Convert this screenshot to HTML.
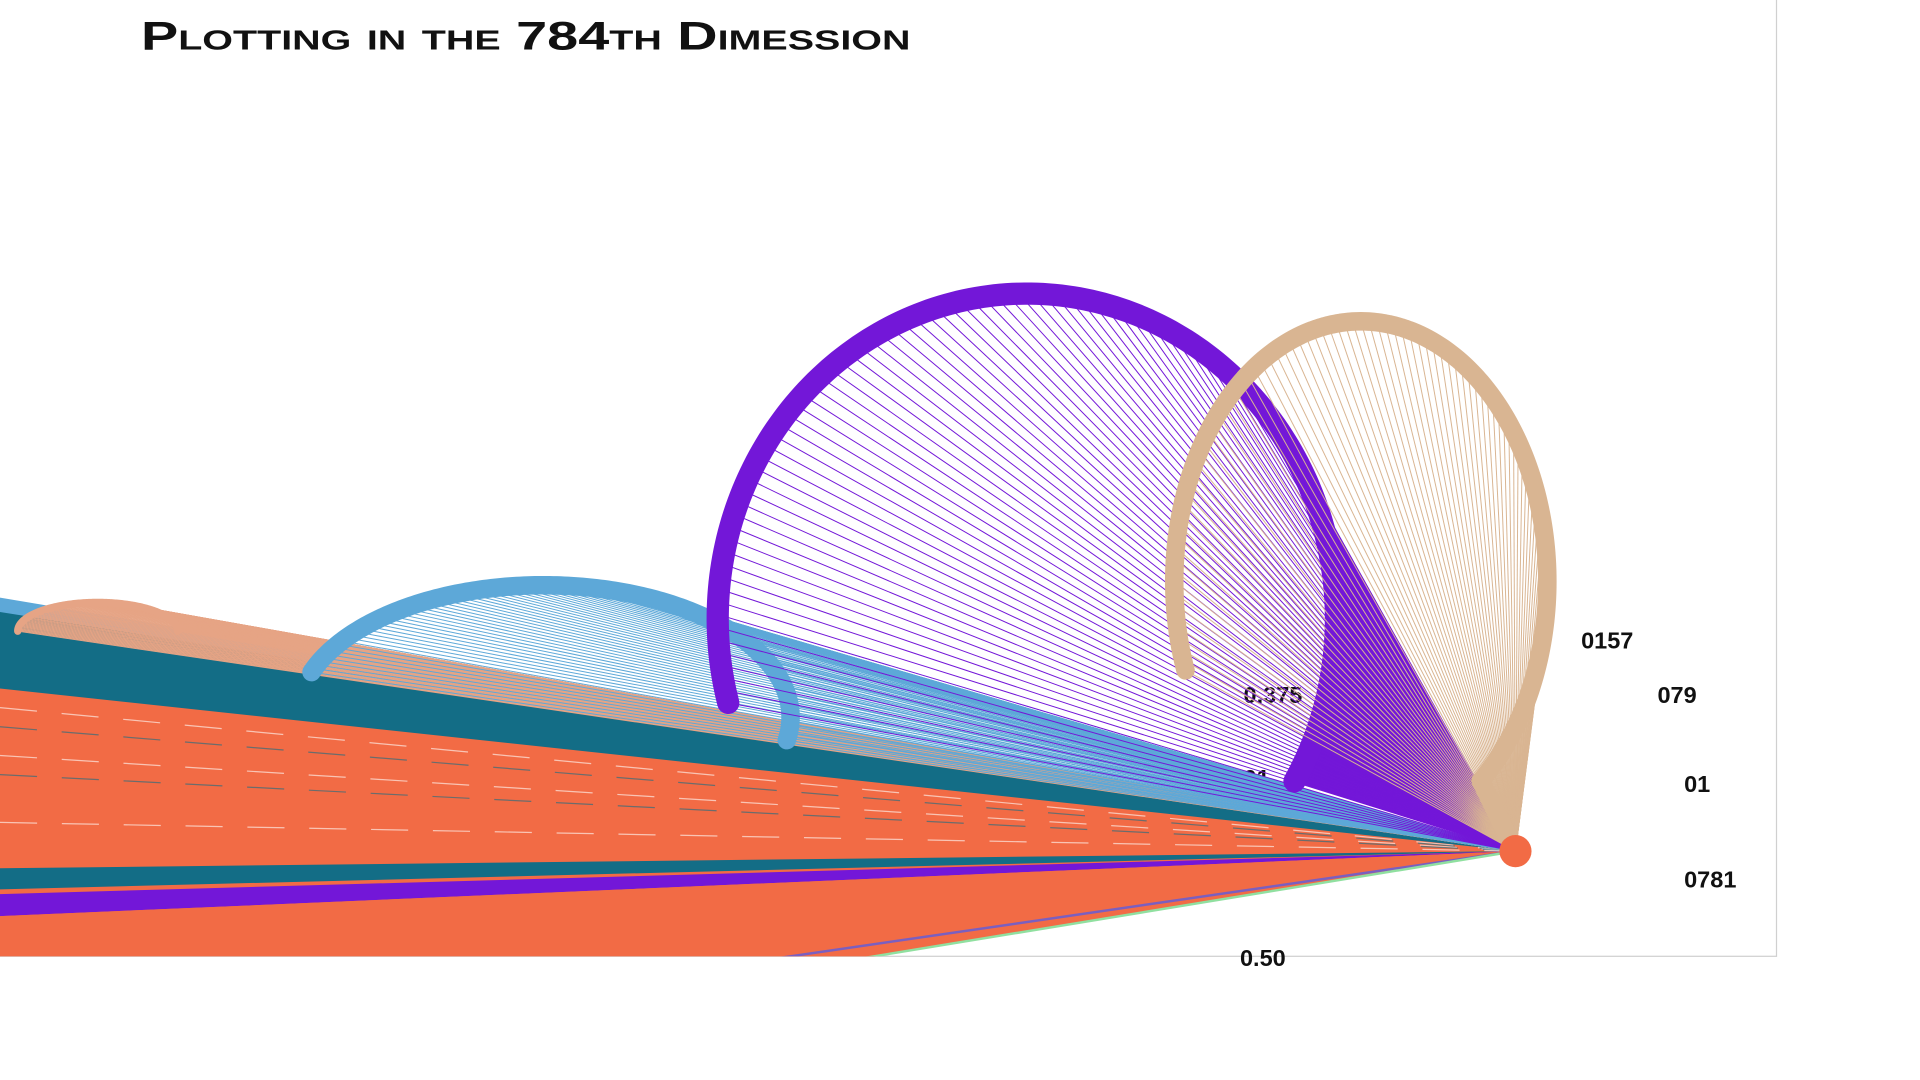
<!DOCTYPE html>
<html><head><meta charset="utf-8"><style>
html,body{margin:0;padding:0;background:#fff;width:1920px;height:1080px;overflow:hidden}
svg{display:block}
</style></head><body>
<svg id="chart" width="1920" height="1080" viewBox="0 0 1552 873" preserveAspectRatio="none" xmlns="http://www.w3.org/2000/svg">
<defs><clipPath id="pc"><rect x="0" y="0" width="1436" height="773"/></clipPath></defs>
<rect x="-3" y="-3" width="1439" height="776" fill="#fff" stroke="#d0d0d0" stroke-width="1"/>
<g id="labels-under" font-family="Liberation Sans, sans-serif" font-weight="bold" font-size="19" fill="#111"></g>
<g id="plot" clip-path="url(#pc)"></g>
<text x="114" y="40" font-family="Liberation Sans, sans-serif" font-weight="bold" font-size="32" style="font-variant:small-caps" textLength="622" lengthAdjust="spacingAndGlyphs" fill="#111">Plotting in the 784th Dimession</text>
<g id="labels" font-family="Liberation Sans, sans-serif" font-weight="bold" font-size="19" fill="#111"></g>
</svg>
<script>
// series (arches in parallel-coordinate space)
const seriesNames = ['salmon','blue','purple','tan'];
const seriesColors = ['#e6a485','#5da8d8','#7317d8','#d9b592'];
const archCenter = [0.055, 0.306, 0.578, 0.766];   // x position (fraction of plot)
const archBase = [0.66, 0.75, 0.647, 0.608];       // y baseline (fraction)
const archRX = [0.045, 0.139, 0.174, 0.105];
const archRY = [0.03, 0.138, 0.34, 0.272];
const archStart = [180, 160, 195, 200];
const archEnd = [0, -10, -30, -50];
const archWidth = [6, 15, 18, 15];
const wedgeFrom = [-999, -999, 26, 5];   // angle (deg) where solid wedge begins
// bands converging to focal point: left-edge values (fraction of plot height)
const bandColors = ['#f26b45','#136d86','#5da8d8','#136d86','#7317d8','#f26b45'];
const bandTop = [0.71, 0.632, 0.625, 0.908, 0.935, 0.958];
const bandBot = [1.15, 0.72, 0.64, 0.93, 0.958, 1.15];
const lowLines = [1.12, 1.15];
const tickLabels = ['0157','079','01','0781','0.375','.25','01','0.50'];
const tickX = [0.89, 0.933, 0.948, 0.948, 0.7, 0.758, 0.7, 0.698];
const tickY = [0.678, 0.735, 0.828, 0.928, 0.735, 0.678, 0.822, 1.01];
const underIdx = [4,5,6,7];

const W = 1436, H = 773;
const fx = v => v * W, fy = v => v * H;
const P = [1225, 688];
const NS = 'http://www.w3.org/2000/svg';
const g = document.getElementById('plot');
function mk(t, a){const e=document.createElementNS(NS,t);for(const k in a)e.setAttribute(k,a[k]);g.appendChild(e);return e;}

bandColors.forEach((c,i)=>{
  const e = mk('polygon',{points:`${P[0]},${P[1]} 0,${fy(bandTop[i])} 0,${fy(bandBot[i])}`,fill:c});
  
  
});
[0.74,0.76,0.79,0.81,0.86].forEach((v,i)=>{
  const e = mk('line',{x1:0,y1:fy(v),x2:P[0],y2:P[1],stroke:i%2?'#136d86':'#ffffff','stroke-width':1,'stroke-dasharray':'30 20',opacity:0.6});
  
  
});
lowLines.forEach((v,i)=>{
  const e = mk('line',{x1:0,y1:fy(v),x2:P[0],y2:P[1],stroke:i?'#90e0a0':'#7a5fc0','stroke-width':2});
  
  
});

function archPts(i, n){
  const pts=[]; const cx=fx(archCenter[i]), cy=fy(archBase[i]), rx=fx(archRX[i]), ry=fy(archRY[i]);
  for(let k=0;k<=n;k++){const deg=archStart[i]+(archEnd[i]-archStart[i])*k/n; const a=deg*Math.PI/180;
    pts.push([cx+rx*Math.cos(a), cy-ry*Math.sin(a), deg]);}
  return pts;
}
seriesNames.forEach((s,i)=>{
  const pts = archPts(i, 200);
  const lg = document.createElementNS(NS,'g'); g.appendChild(lg);
  
  
  const wedge = pts.filter(p=>p[2] < wedgeFrom[i]);
  if(wedge.length){
    const poly = document.createElementNS(NS,'polygon');
    poly.setAttribute('points', [P].concat(wedge).map(p=>p[0]+','+p[1]).join(' '));
    poly.setAttribute('fill', seriesColors[i]);
    if(s==='tan') poly.setAttribute('opacity','0.75');
    lg.appendChild(poly);
  }
  pts.forEach((p,k)=>{ if(k%2) return;
    const l=document.createElementNS(NS,'line');
    l.setAttribute('x1',p[0]);l.setAttribute('y1',p[1]);l.setAttribute('x2',P[0]);l.setAttribute('y2',P[1]);
    l.setAttribute('stroke',seriesColors[i]);l.setAttribute('stroke-width',0.8);
    lg.appendChild(l);
  });
  const pl=document.createElementNS(NS,'polyline');
  pl.setAttribute('points', pts.map(p=>p[0]+','+p[1]).join(' ') + (s==='tan' ? ' '+P.join(',') : ''));
  pl.setAttribute('fill','none');pl.setAttribute('stroke',seriesColors[i]);
  pl.setAttribute('stroke-width',archWidth[i]);pl.setAttribute('stroke-linecap','round');pl.setAttribute('stroke-linejoin','round');
  lg.appendChild(pl);
});
const dot = mk('circle',{cx:P[0],cy:P[1],r:13,fill:'#f26b45'});



const lab = document.getElementById('labels');
const labU = document.getElementById('labels-under');
tickLabels.forEach((t,i)=>{
  const e=document.createElementNS(NS,'text');
  e.setAttribute('x', fx(tickX[i])); e.setAttribute('y', fy(tickY[i]));
  e.textContent=t;
  
  
  (underIdx.includes(i) ? labU : lab).appendChild(e);
});
</script>
</body></html>
